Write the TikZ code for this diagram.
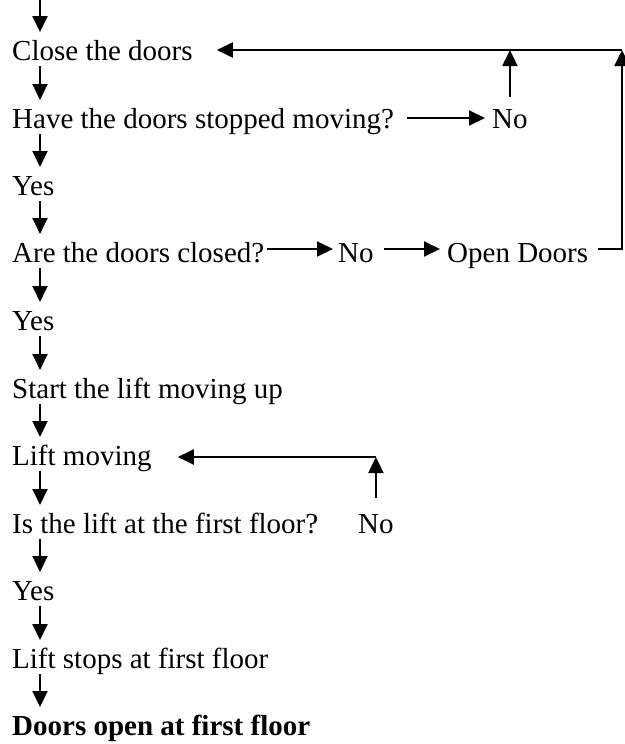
\documentclass[tikz,border=0pt]{standalone}
\usepackage{fontspec}
\setmainfont{Liberation Serif}
\usepackage{tikz}
\usetikzlibrary{arrows.meta, positioning, calc}

\begin{document}
\begin{tikzpicture}[x=1pt,y=-1pt,
  txt/.style={inner sep=0pt,anchor=base west,font=\fontsize{29}{34}\selectfont},
  arrow/.style={-{Triangle[length=16pt,width=15pt]},line width=1.9pt}]
  \useasboundingbox (0,0) rectangle (624,744);
  % main column
  \coordinate (top) at (40,0);
  \node[txt] (close) at (12,60) {Close the doors};
  \node[txt] (stopped) at (12,128) {Have the doors stopped moving?};
  \node[txt] (yes1) at (12,195) {Yes};
  \node[txt] (closed) at (12,262) {Are the doors closed?};
  \node[txt] (yes2) at (12,330) {Yes};
  \node[txt] (startup) at (12,398) {Start the lift moving up};
  \node[txt] (moving) at (12,465) {Lift moving};
  \node[txt] (floor) at (12,533) {Is the lift at the first floor?};
  \node[txt] (yes3) at (12,600) {Yes};
  \node[txt] (stops) at (12,668) {Lift stops at first floor};
  \node[txt,font=\fontsize{29}{34}\selectfont\bfseries] (open) at (12,735) {Doors open at first floor};
  % side branches
  \node[txt] (nostop) at (492,128) {No};
  \node[txt] (noclosed) at (338,262) {No};
  \node[txt] (opendoors) at (447,262) {Open Doors};
  \node[txt] (nofloor) at (358,533) {No};
  \coordinate (corner) at (622,50);
  \coordinate (turn) at (nofloor.north |- 0,457);

  \draw[arrow] (top) -- ([xshift=28pt,yshift=28pt]close.base west);
  \foreach \a/\b in {close/stopped,stopped/yes1,yes1/closed,closed/yes2,yes2/startup,
                     startup/moving,moving/floor,floor/yes3,yes3/stops,stops/open}
    \draw[arrow] ([xshift=28pt,yshift=-6pt]\a.base west) -- ([xshift=28pt,yshift=28pt]\b.base west);

  \draw[arrow] ([xshift=13pt,yshift=10pt]stopped.base east) -- ([xshift=-7pt,yshift=10pt]nostop.base west);
  \draw[arrow] ([yshift=12pt]nostop.north) -- (nostop.north |- corner);
  \draw[arrow] (corner) -- ([xshift=24pt,yshift=10pt]close.base east);
  \draw[arrow] ([xshift=3pt,yshift=13pt]closed.base east) -- ([xshift=-5pt,yshift=13pt]noclosed.base west);
  \draw[arrow] ([xshift=10pt,yshift=13pt]noclosed.base east) -- ([xshift=-7pt,yshift=13pt]opendoors.base west);
  \draw[arrow] ([xshift=10pt,yshift=13pt]opendoors.base east) -| (corner);
  \draw[arrow] ([yshift=16pt]nofloor.north) -- (turn);
  \draw[arrow] (turn) -- ([xshift=26pt,yshift=8pt]moving.base east);
\end{tikzpicture}
\end{document}
